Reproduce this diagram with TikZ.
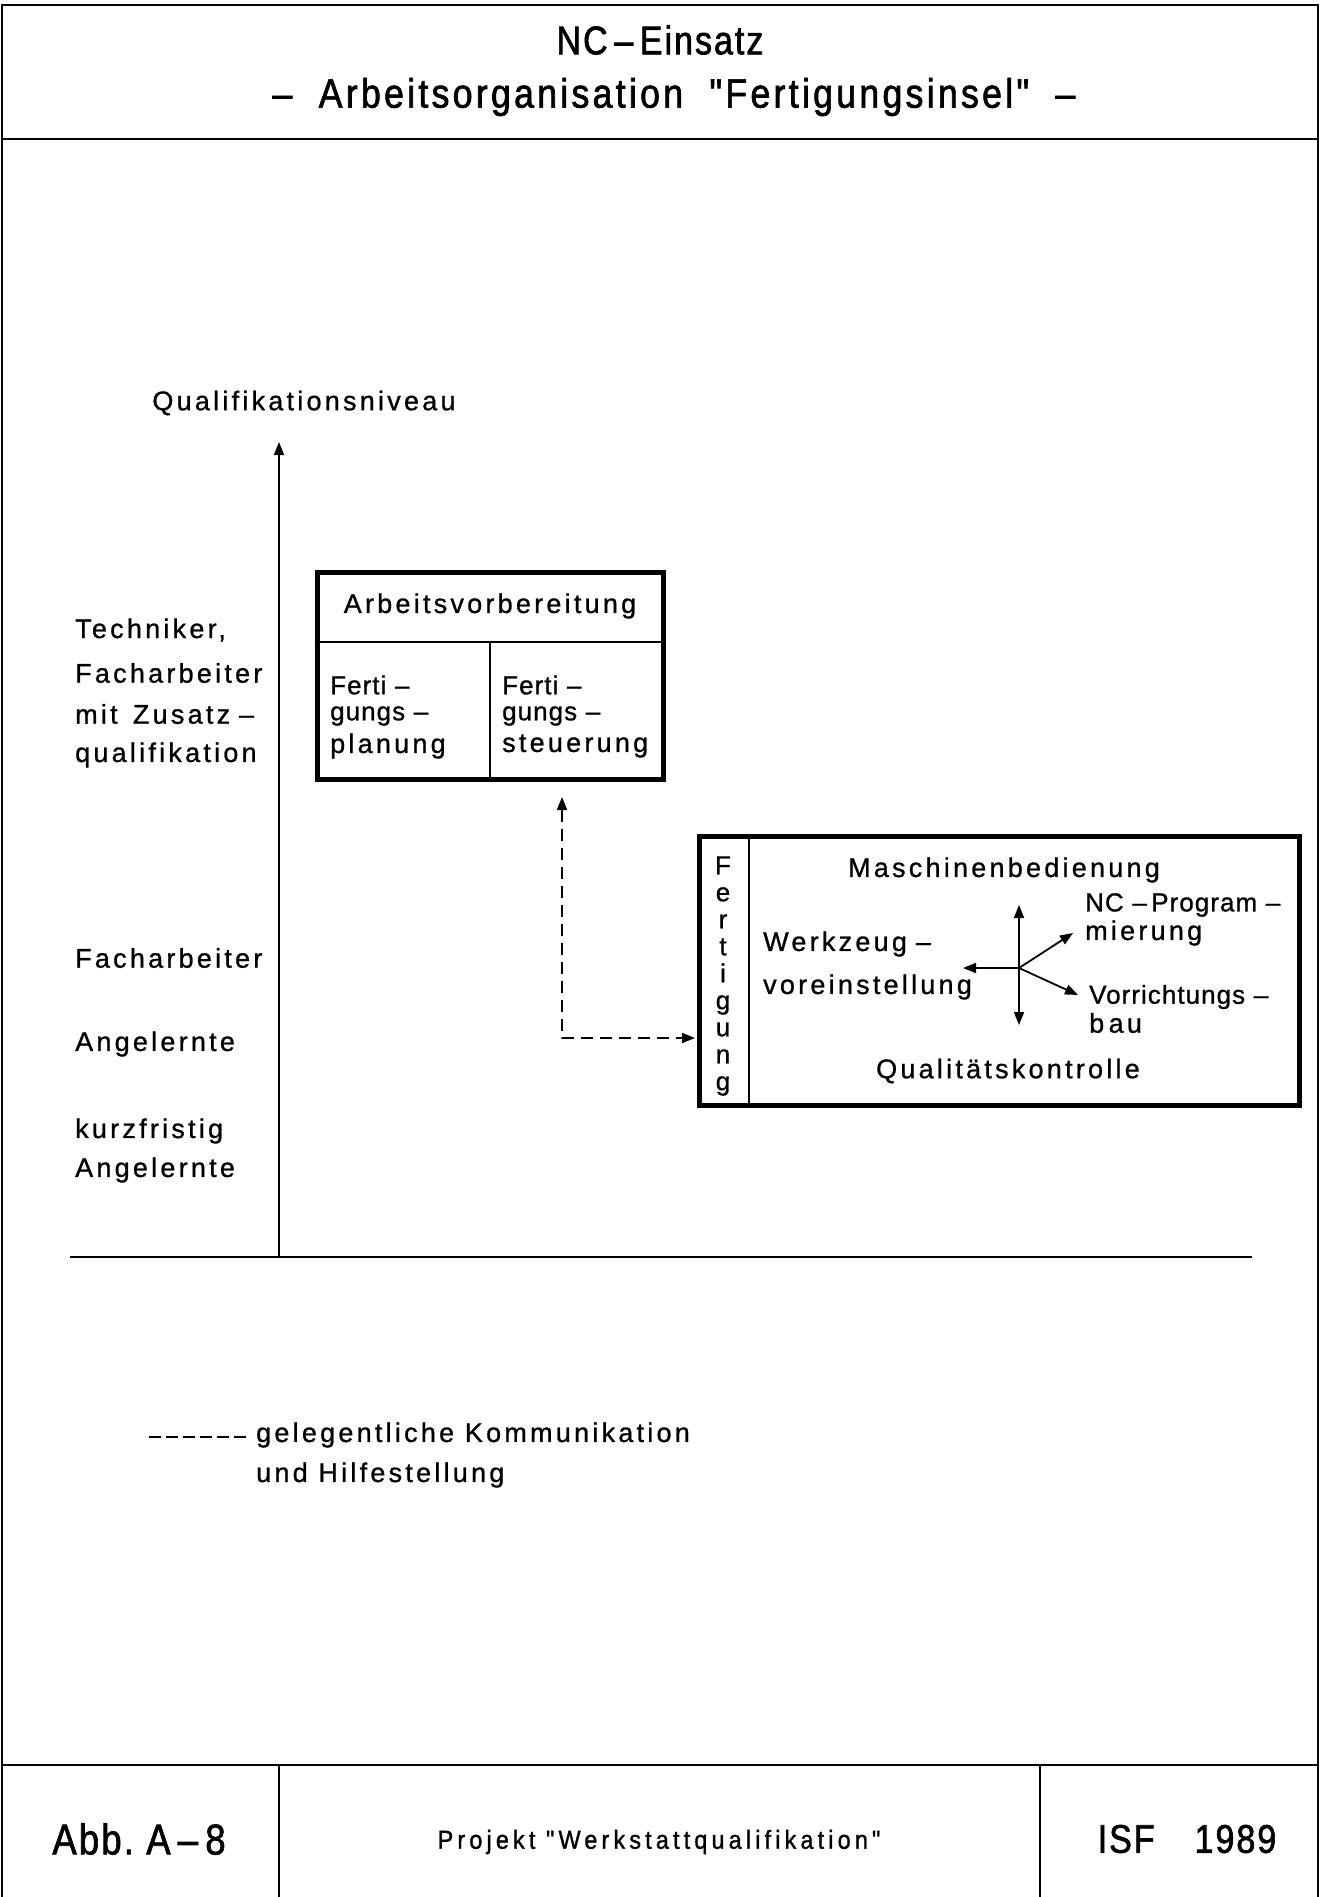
\documentclass[tikz,border=0pt]{standalone}
\usepackage{fontspec}
\usetikzlibrary{arrows.meta}
\setmainfont{Liberation Sans}
\newfontfamily\lsfont[LetterSpace=12,FakeBold=0.9]{Liberation Sans}
\newfontfamily\msfont[LetterSpace=4,FakeBold=0.9]{Liberation Sans}
\newfontfamily\tfont[FakeStretch=0.85,LetterSpace=5,FakeBold=1.6]{Liberation Sans}
\newfontfamily\stfont[FakeStretch=0.87,LetterSpace=8,FakeBold=1.6]{Liberation Sans}
\newfontfamily\ffont[FakeStretch=0.9,LetterSpace=16,FakeBold=1.2]{Liberation Sans}
\begin{document}
\begin{tikzpicture}[x=1pt,y=-1pt,
  frame/.style={line width=2pt},
  thickbox/.style={line width=5pt},
  thin/.style={line width=1.8pt},
  lbl/.style={font=\lsfont\fontsize{27}{30}\selectfont, inner sep=0pt},
  lblw/.style={lbl, anchor=west},
  mlw/.style={font=\msfont\fontsize{26}{30}\selectfont, inner sep=0pt, anchor=west},
  ttl/.style={font=\tfont\fontsize{40}{44}\selectfont, inner sep=0pt},
  tip/.style={-{Triangle[length=13pt,width=10pt]}},
  dtip/.style={{Triangle[length=13pt,width=10pt]}-{Triangle[length=13pt,width=10pt]}},
  dashln/.style={line width=1.8pt, dash pattern=on 12pt off 7pt}
]
\useasboundingbox (0,0) rectangle (1321,1897);
% outer frame
\draw[frame] (2,1897) -- (2,5) -- (1318,5) -- (1318,1897);
\draw[frame] (2,139) -- (1318,139);
\draw[frame] (2,1765) -- (1318,1765);
\draw[frame] (279,1765) -- (279,1897);
\draw[frame] (1040,1765) -- (1040,1897);

% title
\node[ttl] (t1) at (660,40) {NC\,–\,Einsatz};
\node[font=\stfont\fontsize{41}{44}\selectfont, inner sep=0pt] (t2) at (674,97) {–\ \ Arbeitsorganisation\ \ "Fertigungsinsel"\ \ –};

% footer
\node[font=\tfont\fontsize{43}{46}\selectfont, inner sep=0pt] (abb) at (139,1839) {Abb.\ A\,–\,8};
\node[font=\ffont\fontsize{26}{28}\selectfont, inner sep=0pt] (proj) at (659,1842) {Projekt "Werkstattqualifikation"};
\node[ttl] (isf) at (1187,1839) {ISF\quad 1989};

% axes
\coordinate (o) at (279,1257);
\coordinate (ytop) at (279,442);
\coordinate (xl) at (70,1257);
\coordinate (xr) at (1252,1257);
\draw[thin] (xl) -- (xr);
\draw[thin, tip] (o) -- (ytop);
\node[lbl] (qn) at (304,403) {Qualifikationsniveau};

% left labels
\node[lblw] (l1) at (75,630) {Techniker,};
\node[lblw] (l2) at (75,673) {Facharbeiter};
\node[lblw] (l3) at (75,714) {mit\, Zusatz\,\,–};
\node[lblw] (l4) at (75,755) {qualifikation};
\node[lblw] (l5) at (75,958) {Facharbeiter};
\node[lblw] (l6) at (75,1044) {Angelernte};
\node[lblw] (l7) at (75,1131) {kurzfristig};
\node[lblw] (l8) at (75,1170) {Angelernte};

% Arbeitsvorbereitung box
\node[thickbox, draw, minimum width=346pt, minimum height=207pt, inner sep=0pt] (av) at (490,675.5) {};
\draw[thin] (av.west |- 0,642) -- (av.east |- 0,642);
\draw[thin] (490,642) -- (av.south -| 490,0);
\node[lbl] (avt) at (490,606) {Arbeitsvorbereitung};
\node[mlw] (a1) at (330,685) {Ferti\,\,–};
\node[mlw] (a2) at (330,716) {gungs\,\,–};
\node[lblw] (a3) at (330,746) {planung};
\node[mlw] (b1) at (502,685) {Ferti\,\,–};
\node[mlw] (b2) at (502,716) {gungs\,\,–};
\node[lblw] (b3) at (502,746) {steuerung};

% Fertigung box
\node[thickbox, draw, minimum width=600pt, minimum height=269pt, inner sep=0pt] (fb) at (999,970.5) {};
\draw[thin] (fb.north -| 749,0) -- (fb.south -| 749,0);
\node[font=\lsfont\fontsize{26}{27}\selectfont, inner sep=0pt, align=center] (fv) at (723,976) {F\\e\\r\\t\\i\\g\\u\\n\\g};
\node[lbl] (mb) at (1004,870) {Maschinenbedienung};
\node[mlw] (nc1) at (1085,905) {NC\,\,–\,Program\,\,–};
\node[lblw] (nc2) at (1085,933) {mierung};
\node[lblw] (wz1) at (763,944) {Werkzeug\,\,–};
\node[lblw] (wz2) at (763,987) {voreinstellung};
\node[mlw] (vr1) at (1089,997) {Vorrichtungs\,\,–};
\node[lblw] (vr2) at (1089,1023) {b\,au};
\node[lbl] (qk) at (1008,1071) {Qualitätskontrolle};

% cross of arrows
\coordinate (cc) at (1019,968);
\coordinate (cu) at (1019,905);
\coordinate (cd) at (1019,1025);
\coordinate (cl) at (963,968);
\coordinate (cne) at (1073,933);
\coordinate (cse) at (1078,995);
\draw[thin, dtip] (cu) -- (cd);
\draw[thin, tip] (cc) -- (cl);
\draw[thin, tip] (cc) -- (cne);
\draw[thin, tip] (cc) -- (cse);

% dashed connector
\coordinate (ds) at (562,797);
\coordinate (de) at (695,1038);
\draw[dashln, dtip] (ds) |- (de);

% legend
\coordinate (lg1) at (149,1437);
\coordinate (lg2) at (248,1437);
\draw[line width=1.8pt, dash pattern=on 12pt off 5pt] (lg1) -- (lg2);
\node[lblw] (lt1) at (256,1435) {gelegentliche Kommunikation};
\node[lblw] (lt2) at (256,1475) {und Hilfestellung};
\end{tikzpicture}
\end{document}
